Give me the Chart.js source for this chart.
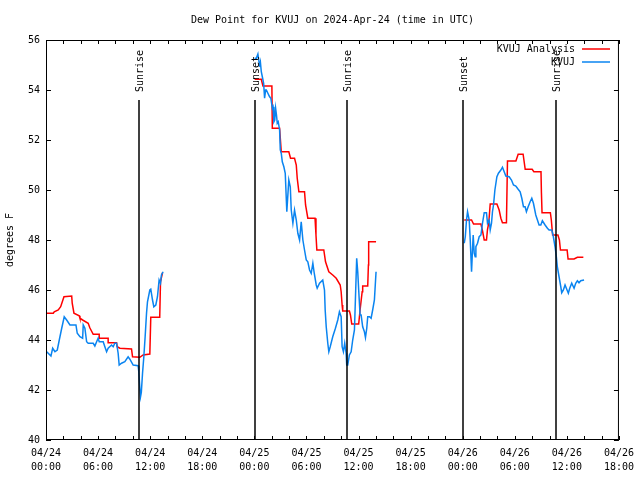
<!DOCTYPE html>
<html>
<head>
<meta charset="utf-8">
<script src="https://cdn.jsdelivr.net/npm/chart.js@4.4.1/dist/chart.umd.min.js"></script>
<style>
  html, body { margin: 0; padding: 0; background: #fff; }
  #wrap { width: 640px; height: 480px; }
</style>
</head>
<body>
<div id="wrap"><canvas id="dewChart" width="640" height="480"></canvas></div>
<script>
const chartTitle = 'Dew Point for KVUJ on 2024-Apr-24 (time in UTC)';
const yTitle = 'degrees F';
const seriesNames = ['KVUJ Analysis', 'KVUJ'];
const seriesColors = ['#ff0000', '#0a84f0'];

// x axis is hours since 04/24 00:00 UTC
const xTickHours = [0, 6, 12, 18, 24, 30, 36, 42, 48, 54, 60, 66];
const xTickLabels = [
  ['04/24', '00:00'], ['04/24', '06:00'], ['04/24', '12:00'], ['04/24', '18:00'],
  ['04/25', '00:00'], ['04/25', '06:00'], ['04/25', '12:00'], ['04/25', '18:00'],
  ['04/26', '00:00'], ['04/26', '06:00'], ['04/26', '12:00'], ['04/26', '18:00']
];

const eventHours = [10.69, 24.03, 34.72, 48.06, 58.76];
const eventLabels = ['Sunrise', 'Sunset', 'Sunrise', 'Sunset', 'Sunrise'];

// analysis (red), null = gap between runs
const analysisHours = [
  0, 0.84, 0.95, 1.41, 1.69, 2.07, 2.96, 3.02, 3.22, 3.83,
  3.91, 4.22, 4.86, 5.06, 5.44, 6.13, 6.13, 7.16, 7.16, 8.13,
  8.2, 8.51, 9.85, 9.97, 10.81, 11.19, 11.96, 12.07, 13.1, 13.19, 13.42,
  18,
  24.03, 24.8, 24.99, 26.02, 26.07, 26.91, 27.1, 27.97, 28.17, 28.63,
  28.83, 28.94, 29.13, 29.78, 29.9, 30.16, 30.99, 31.1, 31.2, 32.0,
  32.2, 32.58, 33.03, 33.43, 33.89, 34.0, 34.11, 34.18, 34.95, 35.07,
  35.22, 36.02, 36.18, 36.42, 36.48, 37.06, 37.14, 37.17, 38.02,
  43,
  48.18, 49.02, 49.25, 50.1, 50.28, 50.48, 50.74, 50.86, 51.0, 51.17,
  51.94, 52.2, 52.4, 52.58, 53.04, 53.16, 54.13, 54.39, 54.96, 55.2,
  56.0, 56.2, 57.02, 57.07, 57.14, 58.1, 58.21, 58.36, 58.97, 59.14,
  59.26, 60.03, 60.14, 60.83, 61.21, 61.9
];
const analysisDew = [
  45.07, 45.07, 45.13, 45.2, 45.33, 45.73, 45.76, 45.47, 45.07, 44.97,
  44.87, 44.8, 44.67, 44.48, 44.23, 44.23, 44.07, 44.07, 43.89, 43.89,
  43.73, 43.67, 43.64, 43.33, 43.31, 43.4, 43.44, 44.91, 44.91, 46.33, 46.69,
  null,
  54.43, 54.43, 54.16, 54.16, 52.47, 52.47, 51.53, 51.53, 51.27, 51.27,
  51.0, 50.47, 49.93, 49.93, 49.4, 48.87, 48.87, 48.2, 47.6, 47.6,
  47.13, 46.73, 46.6, 46.47, 46.2, 45.93, 45.4, 45.16, 45.16, 45.0,
  44.64, 44.64, 45.2, 45.93, 46.16, 46.16, 47.0, 47.93, 47.93,
  null,
  48.8, 48.8, 48.64, 48.64, 48.37, 48.0, 48.0, 48.43, 48.67, 49.44,
  49.44, 49.2, 48.87, 48.69, 48.69, 51.16, 51.16, 51.43, 51.43, 50.83,
  50.83, 50.73, 50.73, 49.89, 49.09, 49.09, 48.8, 48.2, 48.2, 48.0,
  47.6, 47.6, 47.24, 47.24, 47.31, 47.31
];

// station observations (blue)
const obsHours = [
  0.08, 0.57, 0.77, 1.03, 1.3, 1.53, 1.81, 2.1, 2.38, 2.76,
  3.45, 3.6, 3.91, 4.22, 4.29, 4.48, 4.68, 4.86, 5.44, 5.63,
  5.83, 6.01, 6.13, 6.59, 6.78, 6.98, 7.16, 7.55, 7.74, 7.93,
  8.13, 8.31, 8.43, 8.7, 9.08, 9.46, 9.66, 10.04, 10.61, 10.69,
  10.81, 10.89, 10.98, 11.12, 11.27, 11.42, 11.58, 11.69, 11.96, 12.07,
  12.27, 12.42, 12.65, 12.84, 13.03, 13.19, 13.3, 13.49,
  18,
  24.03, 24.23, 24.41, 24.55, 24.61, 24.7, 24.8, 24.92, 25.07, 25.18,
  25.3, 25.38, 25.56, 25.76, 25.9, 26.07, 26.15, 26.25, 26.35, 26.45,
  26.55, 26.64, 26.75, 26.91, 26.99, 27.1, 27.22, 27.4, 27.56, 27.74,
  27.97, 28.14, 28.25, 28.44, 28.63, 28.83, 29.01, 29.21, 29.4, 29.59,
  29.78, 29.98, 30.16, 30.36, 30.55, 30.74, 30.9, 31.13, 31.24, 31.51,
  31.88, 32.08, 32.16, 32.28, 32.46, 32.58, 32.74, 33.03, 33.34, 33.61,
  33.8, 34.0, 34.11, 34.26, 34.41, 34.57, 34.64, 34.76, 34.95, 35.15,
  35.33, 35.53, 35.64, 35.79, 35.91, 36.02, 36.18, 36.3, 36.48, 36.68,
  36.8, 36.95, 37.06, 37.26, 37.45, 37.63, 37.83, 38.02,
  43,
  48.18, 48.3, 48.44, 48.56, 48.75, 48.87, 49.02, 49.13, 49.21, 49.33,
  49.44, 49.52, 49.71, 49.9, 50.1, 50.28, 50.48, 50.74, 50.86, 51.05,
  51.17, 51.32, 51.43, 51.55, 51.71, 51.94, 52.12, 52.4, 52.58, 52.78,
  52.97, 53.35, 53.62, 53.85, 54.12, 54.39, 54.62, 54.81, 55.0, 55.19,
  55.34, 55.54, 55.77, 55.96, 56.15, 56.23, 56.42, 56.61, 56.8, 57.0,
  57.18, 57.49, 57.76, 57.95, 58.26, 58.41, 58.64, 58.79, 58.9, 59.1,
  59.3, 59.41, 59.6, 59.79, 59.94, 60.17, 60.33, 60.56, 60.83, 61.02,
  61.21, 61.4, 61.6, 61.98
];
const obsDew = [
  43.53, 43.36, 43.67, 43.53, 43.6, 44.0, 44.47, 44.93, 44.8, 44.6,
  44.6, 44.27, 44.13, 44.07, 44.6, 44.47, 43.93, 43.87, 43.87, 43.76,
  43.93, 44.07, 43.93, 43.93, 43.73, 43.53, 43.67, 43.8, 43.73, 43.87,
  43.87, 43.47, 43.0, 43.07, 43.13, 43.33, 43.23, 43.0, 42.97, 42.73,
  42.07, 41.73, 41.9, 42.67, 43.33, 44.13, 45.07, 45.53, 46.0, 46.03,
  45.6, 45.33, 45.4, 45.73, 46.4, 46.27, 46.6, 46.73,
  null,
  55.27, 55.27, 55.44, 55.1, 54.93, 55.1, 54.73, 54.53, 54.27, 53.67,
  54.0, 54.0, 53.87, 53.73, 53.67, 53.27, 53.33, 52.73, 52.8, 53.27,
  53.0, 52.67, 52.73, 52.4, 51.6, 51.47, 51.13, 50.93, 50.67, 49.13,
  50.4, 50.13, 49.2, 48.67, 49.2, 48.8, 48.27, 48.0, 48.73, 48.0,
  47.6, 47.2, 47.13, 46.8, 46.67, 47.07, 46.67, 46.2, 46.07, 46.27,
  46.4, 46.0, 45.2, 44.53, 43.87, 43.53, 43.73, 44.13, 44.47, 44.8,
  45.13, 44.93, 43.73, 43.53, 43.87, 43.47, 43.0, 43.0, 43.4, 43.53,
  44.0, 44.4, 45.6, 47.27, 46.73, 46.0, 45.0, 45.0, 44.53, 44.33,
  44.1, 44.47, 44.93, 44.93, 44.87, 45.2, 45.6, 46.73,
  null,
  47.87, 48.13, 48.8, 49.13, 48.8, 48.0, 46.73, 47.6, 48.2, 47.47,
  47.33, 47.73, 47.87, 48.13, 48.2, 48.67, 49.09, 49.09, 48.67, 48.8,
  48.4, 48.67, 49.13, 49.4, 50.0, 50.53, 50.67, 50.8, 50.91, 50.73,
  50.56, 50.53, 50.4, 50.2, 50.16, 50.03, 49.93, 49.67, 49.33, 49.33,
  49.13, 49.33, 49.53, 49.67, 49.47, 49.33, 49.0, 48.8, 48.6, 48.6,
  48.77, 48.6, 48.47, 48.4, 48.4, 48.2, 47.73, 47.33, 46.93, 46.53,
  46.13, 45.89, 46.0, 46.2, 46.07, 45.87, 46.07, 46.27, 46.07, 46.27,
  46.37, 46.29, 46.37, 46.4
];

const FONT = 'DejaVu Sans Mono';

function toPoints(hours, values) {
  return hours.map((h, i) => ({ x: h, y: values[i] }));
}

// gnuplot-style frame: inward ticks, border, sunrise/sunset markers, title and key
const gnuplotFrame = {
  id: 'gnuplotFrame',
  afterDatasetsDraw(chart) {
    const { ctx, chartArea: a, scales: { x, y } } = chart;
    ctx.save();

    // sunrise / sunset lines
    ctx.strokeStyle = '#000';
    ctx.lineWidth = 1.5;
    ctx.fillStyle = '#000';
    ctx.font = '10px "' + FONT + '"';
    eventHours.forEach((h, i) => {
      const px = Math.round(x.getPixelForValue(h));
      ctx.beginPath();
      ctx.moveTo(px, 100);
      ctx.lineTo(px, a.bottom);
      ctx.stroke();
      ctx.save();
      ctx.translate(px + 1, 92);
      ctx.rotate(-Math.PI / 2);
      ctx.textAlign = 'left';
      ctx.textBaseline = 'middle';
      ctx.fillText(eventLabels[i], 0, 0);
      ctx.restore();
    });

    // ticks pointing into the plot
    ctx.lineWidth = 1;
    ctx.beginPath();
    x.ticks.forEach(t => {
      const px = Math.round(x.getPixelForValue(t.value)) + 0.5;
      ctx.moveTo(px, a.bottom); ctx.lineTo(px, a.bottom - 4);
      ctx.moveTo(px, a.top); ctx.lineTo(px, a.top + 4);
    });
    y.ticks.forEach(t => {
      const py = Math.round(y.getPixelForValue(t.value)) + 0.5;
      ctx.moveTo(a.left, py); ctx.lineTo(a.left + 5, py);
      ctx.moveTo(a.right, py); ctx.lineTo(a.right - 5, py);
    });
    ctx.stroke();
    ctx.strokeRect(a.left + 0.5, a.top + 0.5, a.width - 1, a.height - 1);

    // title
    ctx.textAlign = 'center';
    ctx.textBaseline = 'middle';
    ctx.fillText(chartTitle, (a.left + a.right) / 2, 20);

    // key, top right
    ctx.textAlign = 'right';
    chart.data.datasets.forEach((ds, i) => {
      const ky = 49 + i * 13;
      ctx.fillStyle = '#000';
      ctx.fillText(ds.label, 575, ky);
      ctx.strokeStyle = ds.borderColor;
      ctx.lineWidth = 1.5;
      ctx.beginPath();
      ctx.moveTo(582, ky);
      ctx.lineTo(610, ky);
      ctx.stroke();
    });
    ctx.restore();
  }
};

new Chart(document.getElementById('dewChart'), {
  type: 'line',
  data: {
    datasets: [{
      label: seriesNames[0],
      data: toPoints(analysisHours, analysisDew),
      borderColor: seriesColors[0],
      borderWidth: 1.5,
      pointRadius: 0,
      tension: 0,
      spanGaps: false,
      order: 2
    }, {
      label: seriesNames[1],
      data: toPoints(obsHours, obsDew),
      borderColor: seriesColors[1],
      borderWidth: 1.5,
      pointRadius: 0,
      tension: 0,
      spanGaps: false,
      order: 1
    }]
  },
  options: {
    responsive: false,
    animation: false,
    layout: { padding: { top: 40, right: 20, bottom: 0, left: 0 } },
    scales: {
      x: {
        type: 'linear',
        min: 0,
        max: 66,
        afterFit: scale => { scale.height = 40; },
        grid: { display: false, drawTicks: false },
        border: { display: false },
        ticks: {
          stepSize: 2,
          autoSkip: false,
          maxRotation: 0,
          padding: 6,
          color: '#000',
          font: { family: FONT, size: 10, lineHeight: 1.4 },
          callback: function(value) {
            const i = xTickHours.indexOf(value);
            return i >= 0 ? xTickLabels[i] : '';
          }
        }
      },
      y: {
        min: 40,
        max: 56,
        afterFit: scale => { scale.width = 46; },
        grid: { display: false, drawTicks: false },
        border: { display: false },
        ticks: {
          stepSize: 2,
          padding: 6,
          color: '#000',
          font: { family: FONT, size: 10 }
        },
        title: {
          display: true,
          text: yTitle,
          color: '#000',
          padding: { top: 4, bottom: 0 },
          font: { family: FONT, size: 10 }
        }
      }
    },
    plugins: {
      legend: { display: false },
      tooltip: { enabled: false },
      title: { display: false }
    }
  },
  plugins: [gnuplotFrame]
});
</script>
</body>
</html>
